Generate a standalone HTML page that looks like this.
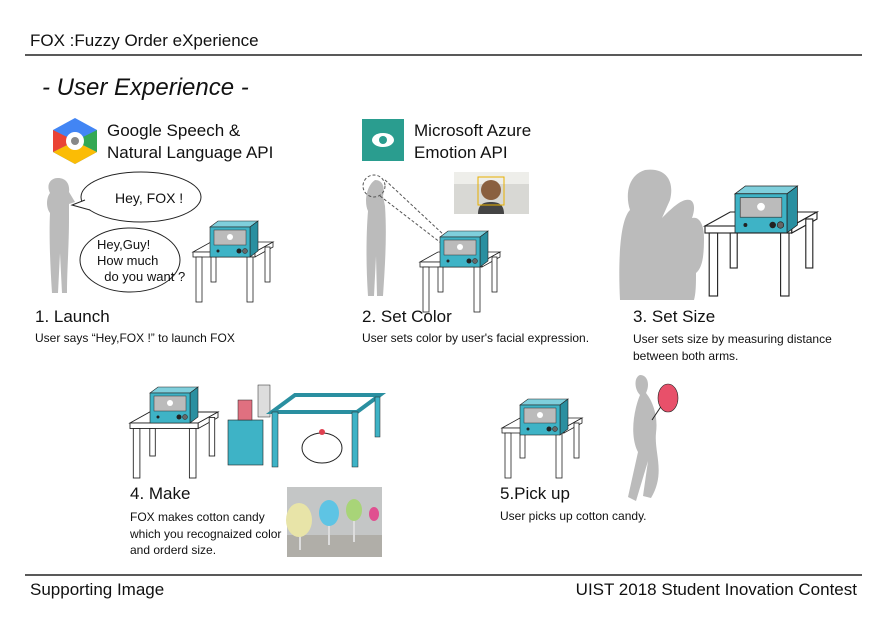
<!DOCTYPE html>
<html><head><meta charset="utf-8">
<style>
body{margin:0;width:892px;height:630px;background:#fff;overflow:hidden;font-family:"Liberation Sans",sans-serif;color:#111;position:relative}
.t{position:absolute;white-space:nowrap}
.h{font-size:17px}
.c{font-size:12px}
svg{position:absolute;left:0;top:0}
</style></head><body>
<svg width="892" height="630">
<defs>
<g id="machine">
<polygon points="0,6 8,0 48,0 40,6" fill="#7fcfdc" stroke="#222" stroke-width="0.6"/>
<polygon points="40,6 48,0 48,30 40,36" fill="#2a8fa0" stroke="#222" stroke-width="0.6"/>
<rect x="0" y="6" width="40" height="30" fill="#3eb3c6" stroke="#222" stroke-width="0.6"/>
<rect x="4" y="9" width="32" height="15" fill="#bbb" stroke="#333" stroke-width="0.5"/>
<circle cx="20" cy="16" r="3" fill="#fff"/>
<circle cx="8" cy="30" r="1.5" fill="#222"/>
<circle cx="29" cy="30" r="2.5" fill="#222"/>
<circle cx="35" cy="30" r="2.5" fill="#666" stroke="#222" stroke-width="0.5"/>
</g>
<g id="table" fill="#fff" stroke="#222" stroke-width="0.8">
<polygon points="0,10 18,0 80,0 62,10"/>
<rect x="0" y="10" width="62" height="5"/>
<polygon points="62,10 80,0 80,5 62,15"/>
<rect x="3" y="15" width="6" height="45"/><rect x="54" y="15" width="6" height="45"/>
<rect x="72" y="5" width="5" height="35"/><rect x="18" y="15" width="5" height="25"/>
</g>
</defs>
<line x1="25" y1="55" x2="862" y2="55" stroke="#222" stroke-width="1.5"/>
<line x1="25" y1="575" x2="862" y2="575" stroke="#222" stroke-width="1.5"/>
<g>
<polygon points="75,118 97,130 97,152 75,164 53,152 53,130" fill="#4285f4"/>
<polygon points="75,141 97,152 75,164 53,152" fill="#fbbc05"/>
<polygon points="53,130 75,141 53,152" fill="#ea4335"/>
<polygon points="97,130 75,141 97,152" fill="#34a853"/>
<circle cx="75" cy="141" r="9" fill="#fff"/><circle cx="75" cy="141" r="4" fill="#888"/>
</g>
<g>
<rect x="362" y="119" width="42" height="42" fill="#2a9d8f"/>
<ellipse cx="383" cy="140" rx="11" ry="7" fill="#fff"/><circle cx="383" cy="140" r="4" fill="#2a9d8f"/>
</g>
<g>
<path d="M58,178 c8,0 12,6 11,14 l6,10 l-6,2 l0,14 c0,30 -2,50 -2,75 l-5,0 l-2,-40 l-2,40 l-6,0 c-2,-30 -3,-60 -2,-80 c-4,-5 -4,-15 0,-20 c-4,-8 0,-15 8,-15z" fill="#bbb"/>
<ellipse cx="141" cy="197" rx="60" ry="25" fill="#fff" stroke="#222"/>
<path d="M85,200 L72,205 L90,210" fill="#fff" stroke="#222"/>
<ellipse cx="130" cy="260" rx="50" ry="32" fill="#fff" stroke="#222"/>
<use href="#table" x="193" y="242"/>
<use href="#machine" x="210" y="221"/>
</g>
<g>
<path d="M375,180 c8,0 10,8 8,16 l2,10 c2,30 0,60 -2,90 l-6,0 l-1,-40 l-2,40 l-6,0 c-2,-30 -2,-60 0,-85 c-4,-8 -2,-25 7,-31z" fill="#bbb"/>
<circle cx="374" cy="186" r="11" fill="none" stroke="#555" stroke-dasharray="3,2"/>
<line x1="385" y1="180" x2="445" y2="236" stroke="#555" stroke-dasharray="3,2"/>
<line x1="380" y1="196" x2="445" y2="246" stroke="#555" stroke-dasharray="3,2"/>
<rect x="454" y="172" width="75" height="42" fill="#d8d8d4"/>
<rect x="454" y="172" width="75" height="12" fill="#eeeeea"/>
<path d="M478,214 c0,-10 6,-12 13,-12 c7,0 13,2 13,12z" fill="#444"/>
<circle cx="491" cy="190" r="10" fill="#8a6040"/>
<rect x="478" y="177" width="26" height="28" fill="none" stroke="#e8b000"/>
<use href="#table" x="420" y="252"/>
<use href="#machine" x="440" y="231"/>
</g>
<g>
<path d="M620,300 c-2,-40 0,-80 10,-90 c-5,-15 -2,-35 15,-40 c20,-3 30,10 25,30 l-8,18 c10,-10 20,-20 28,-18 c5,2 5,10 2,18 c8,-2 12,8 12,20 c0,20 -2,30 -8,35 c0,10 0,20 -2,27z" fill="#bbb"/>
<use href="#table" x="705" y="212" transform="translate(705,212) scale(1.4) translate(-705,-212)"/>
<use href="#machine" x="735" y="186" transform="translate(735,186) scale(1.3) translate(-735,-186)"/>
</g>
<g>
<use href="#table" x="130" y="412" transform="translate(130,412) scale(1.1) translate(-130,-412)"/>
<use href="#machine" x="150" y="387"/>
<rect x="228" y="420" width="35" height="45" fill="#3eb3c6" stroke="#222" stroke-width="0.6"/>
<rect x="238" y="400" width="14" height="20" fill="#e07080" stroke="#222" stroke-width="0.5"/>
<rect x="258" y="385" width="12" height="32" fill="#ddd" stroke="#222" stroke-width="0.5"/>
<polygon points="272,412 295,395 380,395 357,412" fill="none" stroke="#2a8fa0" stroke-width="4"/>
<rect x="272" y="412" width="6" height="55" fill="#3eb3c6" stroke="#222" stroke-width="0.5"/>
<rect x="352" y="412" width="6" height="55" fill="#3eb3c6" stroke="#222" stroke-width="0.5"/>
<rect x="375" y="397" width="5" height="40" fill="#3eb3c6" stroke="#222" stroke-width="0.5"/>
<ellipse cx="322" cy="448" rx="20" ry="15" fill="#fff" stroke="#222"/>
<circle cx="322" cy="432" r="3" fill="#e04050"/>
<rect x="287" y="487" width="95" height="70" fill="#c4c6c6"/>
<rect x="287" y="535" width="95" height="22" fill="#b0aea8"/>
<line x1="300" y1="530" x2="300" y2="550" stroke="#ddd" stroke-width="2"/>
<line x1="329" y1="520" x2="329" y2="545" stroke="#ddd" stroke-width="2"/>
<line x1="354" y1="518" x2="354" y2="542" stroke="#ddd" stroke-width="2"/>
<ellipse cx="299" cy="520" rx="13" ry="17" fill="#e8e4a8"/>
<ellipse cx="329" cy="513" rx="10" ry="13" fill="#5ec4e4"/>
<ellipse cx="354" cy="510" rx="8" ry="11" fill="#a8d478"/>
<ellipse cx="374" cy="514" rx="5" ry="7" fill="#e05090"/>
</g>
<g>
<use href="#table" x="502" y="418"/>
<use href="#machine" x="520" y="399"/>
<path d="M640,375 c8,0 10,10 6,18 c8,10 12,25 10,40 c-2,20 10,40 -5,65 l-8,-2 l5,-35 l-12,40 l-8,-4 l10,-45 c-8,-15 -5,-40 2,-57 c-6,-6 -6,-18 0,-20z" fill="#bbb"/>
<line x1="652" y1="420" x2="664" y2="402" stroke="#222"/>
<ellipse cx="668" cy="398" rx="10" ry="14" fill="#e8506a" stroke="#222" stroke-width="0.6"/>
</g>
</svg>
<div class="t" style="left:30px;top:31px;font-size:17px">FOX :Fuzzy Order eXperience</div>
<div class="t" style="left:42px;top:74px;font-size:24px;font-style:italic">- User Experience -</div>
<div class="t h" style="left:107px;top:120px;line-height:22px">Google Speech &amp;<br>Natural Language API</div>
<div class="t h" style="left:414px;top:120px;line-height:22px">Microsoft Azure<br>Emotion API</div>
<div class="t" style="left:115px;top:190px;font-size:14px;font-family:'Liberation Sans Narrow','Liberation Sans',sans-serif">Hey, FOX !</div>
<div class="t" style="left:97px;top:237px;font-size:13px;line-height:16px;font-family:'Liberation Sans Narrow','Liberation Sans',sans-serif">Hey,Guy!<br>How much<br>&nbsp;&nbsp;do you want ?</div>
<div class="t h" style="left:35px;top:307px">1. Launch</div>
<div class="t c" style="left:35px;top:331px">User says “Hey,FOX !” to launch FOX</div>
<div class="t h" style="left:362px;top:307px">2. Set Color</div>
<div class="t c" style="left:362px;top:331px">User sets color by user's facial expression.</div>
<div class="t h" style="left:633px;top:307px">3. Set Size</div>
<div class="t c" style="left:633px;top:331px;line-height:17px">User sets size by measuring distance<br>between both arms.</div>
<div class="t h" style="left:130px;top:484px">4. Make</div>
<div class="t c" style="left:130px;top:509px;line-height:16.5px">FOX makes cotton candy<br>which you recognaized color<br>and orderd size.</div>
<div class="t h" style="left:500px;top:484px">5.Pick up</div>
<div class="t c" style="left:500px;top:509px">User picks up cotton candy.</div>
<div class="t" style="left:30px;top:580px;font-size:17px">Supporting Image</div>
<div class="t" style="right:35px;top:580px;font-size:17px">UIST 2018 Student Inovation Contest</div>
</body></html>
